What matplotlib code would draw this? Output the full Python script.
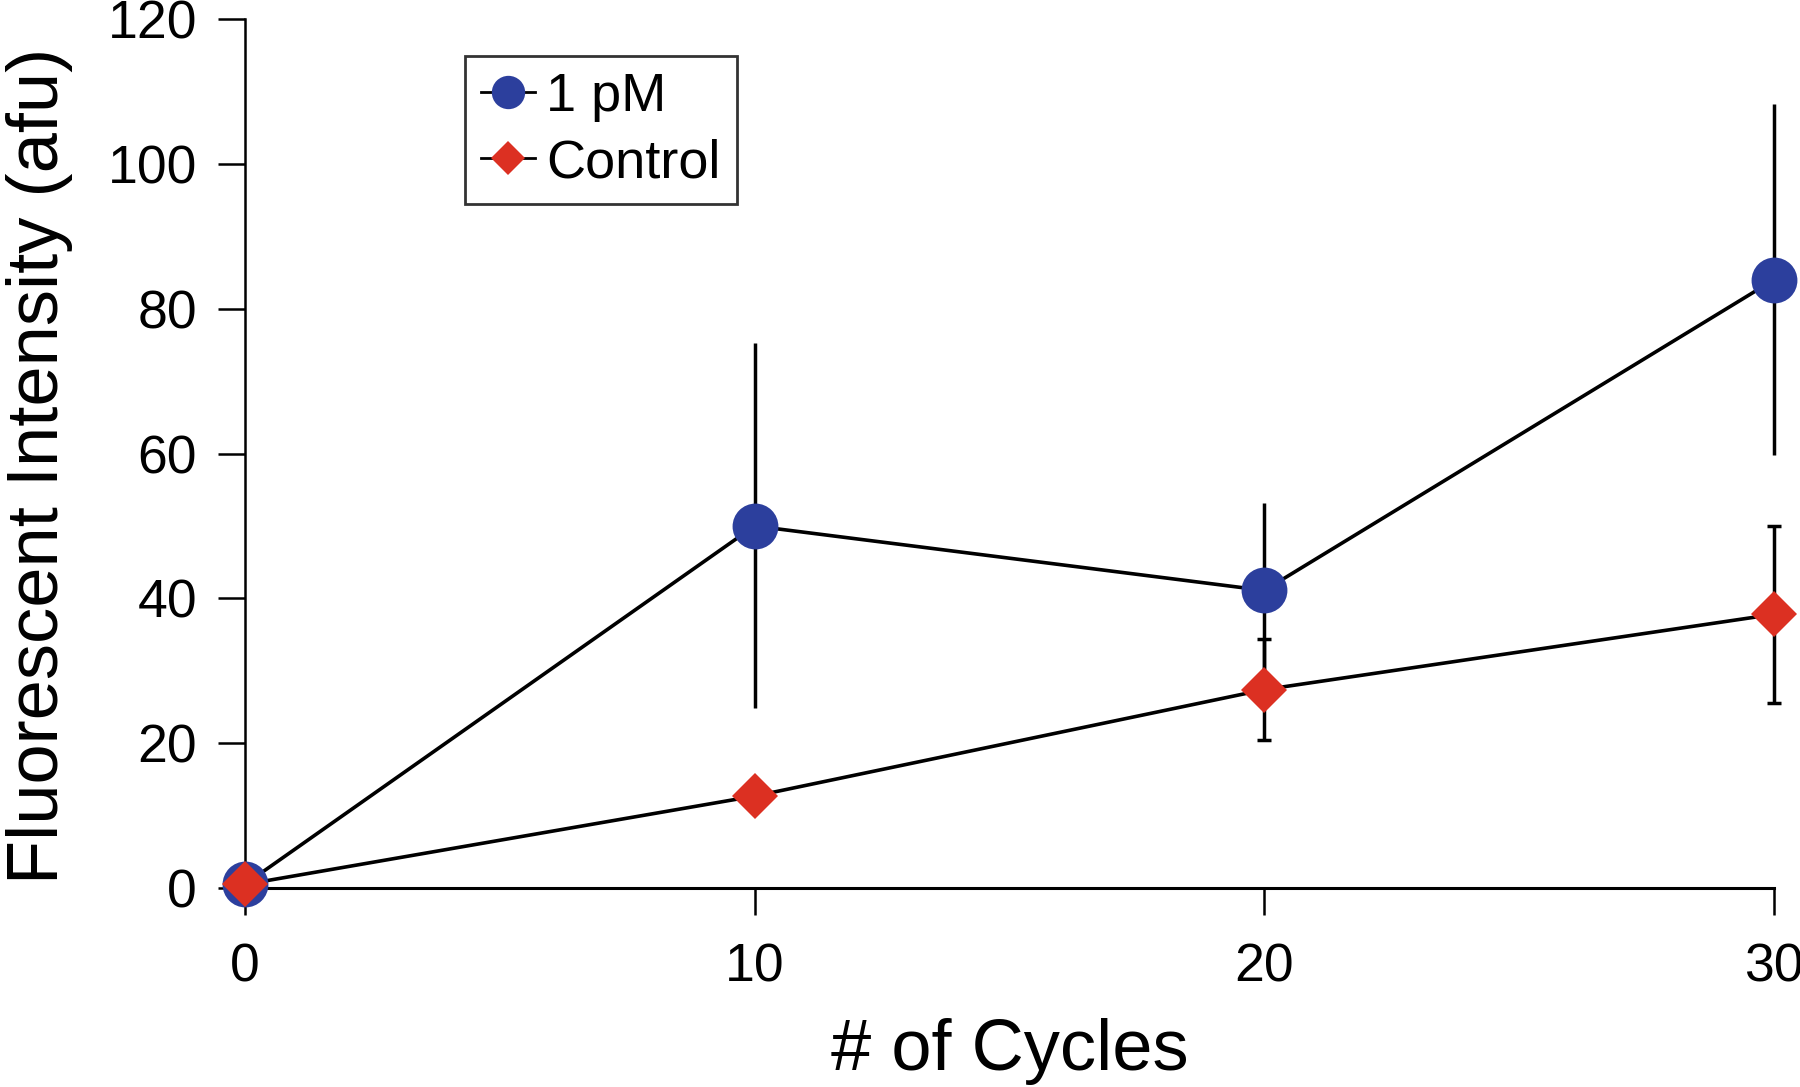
import matplotlib
matplotlib.use("Agg")
import matplotlib.pyplot as plt

cycles = [0, 10, 20, 30]
pm1_values = [0.5, 50.0, 41.1, 84.0]
pm1_err = [0.0, 25.2, 12.1, 24.2]
ctrl_values = [0.5, 12.7, 27.4, 37.8]
ctrl_err = [0.0, 0.0, 7.0, 12.2]
series_labels = ["1 pM", "Control"]
xticks = [0, 10, 20, 30]
yticks = [0, 20, 40, 60, 80, 100, 120]

plt.rcParams['font.family'] = ['Liberation Sans', 'DejaVu Sans']

fig = plt.figure(figsize=(18, 10.87), dpi=100)
ax = fig.add_axes([0.136, 0.183, 0.8496, 0.7995])

blue = '#2c3f9d'
red = '#dc3022'

# error bars
ax.errorbar(cycles, pm1_values, yerr=pm1_err, fmt='none', ecolor='black',
            elinewidth=2.5, capsize=0, clip_on=False, zorder=2)
ax.errorbar(cycles[2:], ctrl_values[2:], yerr=ctrl_err[2:], fmt='none', ecolor='black',
            elinewidth=2.5, capsize=5, capthick=2.5, clip_on=False, zorder=2)

ax.plot(cycles, pm1_values, color='black', linewidth=2.6, zorder=3, clip_on=False)
ax.plot(cycles, ctrl_values, color='black', linewidth=2.6, zorder=3, clip_on=False)
ax.plot(cycles, pm1_values, linestyle='none', marker='o', markersize=33,
        markerfacecolor=blue, markeredgecolor=blue, markeredgewidth=0, zorder=4, clip_on=False)
ax.plot(cycles, ctrl_values, linestyle='none', marker='D', markersize=23,
        markerfacecolor=red, markeredgecolor=red, markeredgewidth=0, zorder=5, clip_on=False)

# legend proxies
h1, = ax.plot([], [], color='black', linewidth=2.0, marker='o', markersize=24,
              markerfacecolor=blue, markeredgewidth=0, label=series_labels[0])
h2, = ax.plot([], [], color='black', linewidth=2.0, marker='D', markersize=17,
              markerfacecolor=red, markeredgewidth=0, label=series_labels[1])
leg = ax.legend(handles=[h1, h2], loc='upper left', bbox_to_anchor=(0.144, 0.958),
                fontsize=39, frameon=True, fancybox=False, edgecolor='black',
                handlelength=1.0, handletextpad=0.2, borderpad=0.3,
                labelspacing=0.3, borderaxespad=0.0)
leg.get_frame().set_linewidth(2.0)

ax.set_xlim(0, 30)
ax.set_ylim(0, 120)
ax.set_xticks(xticks)
ax.set_yticks(yticks)
ax.spines['top'].set_visible(False)
ax.spines['right'].set_visible(False)
ax.spines['left'].set_linewidth(1.8)
ax.spines['bottom'].set_linewidth(2.2)
ax.tick_params(axis='both', direction='out', length=19.5, width=1.8,
               labelsize=38.5, colors='black')
ax.tick_params(axis='x', pad=20)
ax.tick_params(axis='y', pad=15)

ax.set_xlabel('# of Cycles', fontsize=52, labelpad=18)
ax.set_ylabel('Fluorescent Intensity (afu)', fontsize=52)
ax.yaxis.set_label_coords(-0.1125, 0.486)

fig.savefig('out.png', dpi=100)
